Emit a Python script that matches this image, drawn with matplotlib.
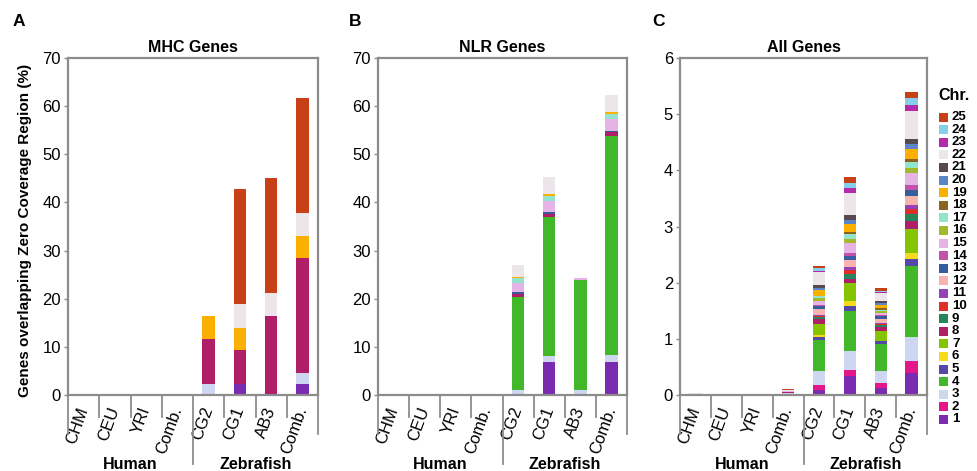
import numpy as np
import matplotlib
matplotlib.use("Agg")
import matplotlib.pyplot as plt
from matplotlib.patches import Rectangle
from matplotlib.transforms import blended_transform_factory

plt.rcParams['font.family'] = ['Liberation Sans', 'DejaVu Sans']

# ---------------- data ----------------
samples = ["CHM", "CEU", "YRI", "Comb.", "CG2", "CG1", "AB3", "Comb."]
groups = ["Human", "Zebrafish"]
chromosomes = list(range(1, 26))
chr_colors = ["#7B2BB0", "#E3168A", "#CFD6F0", "#41B82A", "#5549A8",
              "#F7DA1C", "#84C400", "#B01E67", "#26855A", "#E02E28",
              "#9343BA", "#F8B2B0", "#385CA0", "#C452A8", "#E6B3E6",
              "#A3B82A", "#93E3CF", "#8A6420", "#FBB000", "#5A85C8",
              "#58494F", "#ECE6EA", "#B32BA8", "#86CFEC", "#C84116"]

# Panel A: MHC genes (% per chromosome), zebrafish only; human zero
mhc_CG2 = {3: 2.3, 8: 9.3, 19: 4.9}
mhc_CG1 = {1: 2.3, 8: 7.0, 19: 4.7, 22: 4.8, 25: 23.9}
mhc_AB3 = {8: 16.5, 22: 4.7, 25: 23.9}
mhc_Comb = {1: 2.3, 3: 2.3, 8: 23.8, 19: 4.7, 22: 4.7, 25: 23.9}

# Panel B: NLR genes
nlr_CG2 = {3: 1.0, 4: 19.4, 8: 0.6, 13: 0.3, 15: 1.9, 17: 1.0, 19: 0.4, 22: 2.3}
nlr_CG1 = {1: 6.8, 3: 1.4, 4: 28.7, 8: 0.7, 13: 0.4, 15: 2.4, 17: 1.0, 19: 0.3, 22: 3.5}
nlr_AB3 = {3: 1.0, 4: 22.9, 15: 0.3}
nlr_Comb = {1: 6.8, 3: 1.6, 4: 45.5, 8: 0.7, 13: 0.3, 15: 2.5, 17: 1.0, 19: 0.4, 22: 3.6}

# Panel C: all genes, chr1..chr25
all_CHM = [0, 0, 0, 0, 0, 0, 0, 0, 0, 0, 0, 0.01, 0, 0, 0, 0, 0.015, 0, 0, 0, 0, 0.005, 0, 0, 0]
all_CEU = [0, 0, 0.01, 0, 0, 0, 0, 0, 0, 0, 0, 0, 0, 0, 0, 0, 0, 0, 0, 0, 0, 0.01, 0, 0.005, 0]
all_YRI = [0, 0, 0.008, 0, 0, 0, 0, 0, 0, 0, 0, 0, 0.005, 0, 0, 0, 0, 0, 0, 0, 0, 0.005, 0, 0, 0]
all_HComb = [0.005, 0.015, 0.01, 0, 0, 0, 0, 0.02, 0, 0, 0, 0.01, 0, 0, 0.01, 0, 0.01, 0, 0, 0, 0, 0.01, 0, 0.005, 0.005]
all_CG2 = [0.095, 0.085, 0.24, 0.56, 0.05, 0.03, 0.21, 0.08, 0.04, 0.02, 0.02, 0.10, 0.06,
           0.02, 0.07, 0.05, 0.03, 0.01, 0.105, 0.025, 0.05, 0.24, 0.02, 0.06, 0.02]
all_CG1 = [0.33, 0.12, 0.33, 0.71, 0.10, 0.08, 0.32, 0.08, 0.09, 0.06, 0.06, 0.12, 0.07,
           0.06, 0.17, 0.07, 0.09, 0.05, 0.14, 0.06, 0.09, 0.40, 0.08, 0.10, 0.095]
all_AB3 = [0.12, 0.09, 0.21, 0.48, 0.06, 0.01, 0.17, 0.07, 0.03, 0.02, 0.02, 0.07, 0.05,
           0.03, 0.03, 0.03, 0.02, 0.04, 0.06, 0.03, 0.03, 0.15, 0.01, 0.02, 0.05]
all_ZComb = [0.40, 0.21, 0.43, 1.26, 0.13, 0.09, 0.44, 0.14, 0.13, 0.08, 0.08, 0.15, 0.11,
             0.08, 0.22, 0.10, 0.09, 0.06, 0.175, 0.085, 0.10, 0.50, 0.11, 0.12, 0.11]

panel_titles = ["MHC Genes", "NLR Genes", "All Genes"]
panel_letters = ["A", "B", "C"]
panel_ymax = [70, 70, 6]
panel_yticks = [np.arange(0, 71, 10), np.arange(0, 71, 10), np.arange(0, 7, 1)]
ylabel = "Genes overlapping Zero Coverage Region (%)"


def dict_to_matrix(ds):
    m = np.zeros((len(ds), len(chromosomes)))
    for i, d in enumerate(ds):
        for c, v in d.items():
            m[i, c - 1] = v
    return m


empty = {}
mhc = dict_to_matrix([empty, empty, empty, empty, mhc_CG2, mhc_CG1, mhc_AB3, mhc_Comb])
nlr = dict_to_matrix([empty, empty, empty, empty, nlr_CG2, nlr_CG1, nlr_AB3, nlr_Comb])
allg = np.array([all_CHM, all_CEU, all_YRI, all_HComb, all_CG2, all_CG1, all_AB3, all_ZComb])
panels = [mhc, nlr, allg]

# ---------------- figure ----------------
W, H = 977, 471
fig = plt.figure(figsize=(W / 100, H / 100), dpi=100)
gray = "#8C8C8C"
lefts = [68, 378, 680]
widths = [250, 249, 247]
letter_x = [13, 349, 652]
top_px, bot_px = 58, 395

x = np.arange(len(samples))
for k in range(3):
    ax = fig.add_axes([lefts[k] / W, 1 - bot_px / H, widths[k] / W, (bot_px - top_px) / H])
    data = panels[k]
    bottom = np.zeros(len(samples))
    for ci in range(len(chromosomes)):
        vals = data[:, ci]
        ax.bar(x, vals, width=0.4, bottom=bottom, color=chr_colors[ci],
               edgecolor='none', linewidth=0)
        bottom += vals
    ax.set_xlim(-0.5, len(samples) - 0.5)
    ax.set_ylim(0, panel_ymax[k])
    ax.set_yticks(panel_yticks[k])
    ax.tick_params(axis='y', labelsize=12, length=3, width=1, color=gray, pad=2)
    ax.set_xticks(x)
    ax.set_xticklabels(samples, rotation=70, ha='right', va='center',
                       rotation_mode='anchor', fontsize=12)
    ax.tick_params(axis='x', length=0, pad=9)
    for s in ax.spines.values():
        s.set_color(gray)
        s.set_linewidth(1.6)
    ax.set_title(panel_titles[k], fontsize=11.5, fontweight='bold', pad=4)
    trans = blended_transform_factory(ax.transData, ax.transAxes)
    for b in np.arange(-0.5, len(samples), 1.0):
        if b in (-0.5, len(samples) - 0.5):
            y1 = -0.115
        elif b == 3.5:
            y1 = -0.205
        else:
            y1 = -0.065
        ax.plot([b, b], [0, y1], transform=trans, clip_on=False, color=gray, lw=1.3)
    ax.text(1.5, -0.205, groups[0], transform=trans, ha='center', va='center',
            fontsize=11.5, fontweight='bold')
    ax.text(5.5, -0.205, groups[1], transform=trans, ha='center', va='center',
            fontsize=11.5, fontweight='bold')
    fig.text(letter_x[k] / W, 1 - 21 / H, panel_letters[k], fontsize=12.5,
             fontweight='bold', ha='left', va='center')

fig.text(25 / W, 1 - 230 / H, ylabel, rotation=90, ha='center', va='center',
         fontsize=11, fontweight='bold')

# legend
fig.text(938 / W, 1 - 96 / H, "Chr.", fontsize=11.5, fontweight='bold', ha='left', va='center')
for i, c in enumerate(chromosomes[::-1]):
    yc = 117 + 12.6 * i
    fig.add_artist(Rectangle((939 / W, 1 - (yc + 4.5) / H), 9 / W, 9 / H,
                             transform=fig.transFigure, color=chr_colors[c - 1], lw=0))
    fig.text(952 / W, 1 - yc / H, str(c), fontsize=9.5, fontweight='bold',
             ha='left', va='center')

fig.savefig("out.png", dpi=100)
